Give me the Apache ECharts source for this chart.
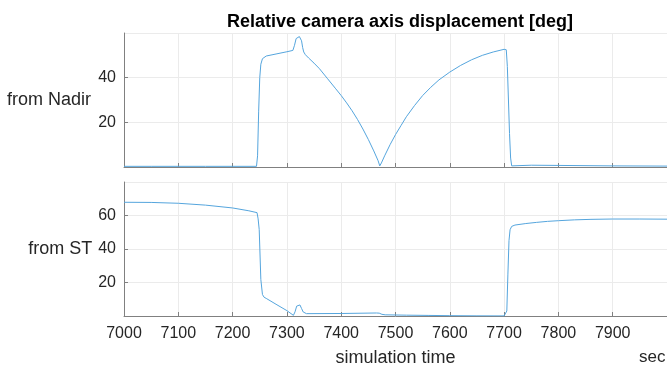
<!DOCTYPE html>
<html><head><meta charset="utf-8">
<script src="https://cdn.jsdelivr.net/npm/echarts@6/dist/echarts.min.js"></script>
<style>html,body{margin:0;padding:0;background:#fff}#c{width:667px;height:368px}</style>
</head><body><div id="c"></div>
<script>
const titleText = 'Relative camera axis displacement [deg]';
const nadirName = 'from Nadir';
const stName = 'from ST';
const xName = 'simulation time';
const xUnit = 'sec';

const nadirTime = [7000,7050,7100,7150,7200,7244,7246,7248,7250,7252,7255,7258,7262,7280,7300,7311,7314,7317,7320,7323,7325,7327,7329,7331,7334,7340,7350,7360,7375,7390,7400,7410,7420,7430,7440,7450,7460,7468,7471,7474,7480,7490,7500,7510,7520,7535,7550,7565,7580,7600,7620,7640,7660,7680,7700,7704,7706,7708,7710,7712,7714,7717,7750,7800,7900,8000];
const nadirValue = [0.3,0.3,0.3,0.3,0.3,0.3,5,25,40,46,48.5,49.3,49.7,50.6,51.6,52.2,54.5,57.5,58.3,58.4,58.2,56.5,53.5,51.5,50.3,48.8,46.5,44,39.5,35,32,28.7,25.2,21.3,17,12.3,7.2,2.8,0.5,1.8,5,10,14.5,18.5,22.5,27.5,32,35.7,39,42.5,45.5,48,50,51.5,52.7,52.5,45,30,15,4,0.5,0.8,0.8,0.7,0.5,0.4];

const stTime = [7000,7050,7100,7150,7200,7230,7245,7247,7249,7252,7255,7258,7263,7280,7300,7312,7315,7318,7321,7324,7327,7330,7333,7336,7400,7465,7470,7475,7481,7520,7560,7600,7650,7700,7703,7705,7707,7709,7711,7714,7720,7740,7760,7780,7800,7830,7860,7900,7950,8000];
const stValue = [67.9,67.8,67.3,66.2,64.5,62.8,61.7,58,51.6,21.8,12.8,11.2,10.3,7,3.2,0.4,2.5,5.9,6.9,6.6,4.5,2.4,1.5,1.4,1.5,1.8,1.7,1,0.7,0.5,0.35,0.2,0.1,0.05,0.3,3,25,45,51.5,53.5,54.3,55.2,55.9,56.5,56.9,57.4,57.7,57.9,57.9,57.8];

const xMin = 7000, xMax = 8000, xStep = 100;
const topYMax = 60, botYMax = 80, yStep = 20;

const nadirData = nadirTime.map((t, i) => [t, nadirValue[i]]);
const stData = stTime.map((t, i) => [t, stValue[i]]);

const font = 'Liberation Sans, Arial, sans-serif';
const txt = '#262626';
const axisCol = '#808080';
const gridCol = '#ebebeb';
const lineCol = '#55a5dd';

function xAx(idx, showLabels) {
  return {
    type: 'value', gridIndex: idx, min: xMin, max: xMax, interval: xStep,
    axisLine: {show: true, onZero: false, lineStyle: {color: axisCol, width: 1}},
    axisTick: {show: true, inside: true, length: 4, lineStyle: {color: axisCol}},
    axisLabel: {show: showLabels, showMaxLabel: false, margin: 10, fontSize: 16, color: txt, fontFamily: font,
      formatter: v => String(v)},
    splitLine: {show: true, lineStyle: {color: gridCol, width: 1}},
    name: showLabels ? xName : '', nameLocation: 'middle', nameGap: 33,
    nameTextStyle: {fontSize: 18, color: txt, fontFamily: font}
  };
}
function yAx(idx, max, name, gap) {
  return {
    type: 'value', gridIndex: idx, min: 0, max: max, interval: yStep,
    axisLine: {show: true, lineStyle: {color: axisCol, width: 1}},
    axisTick: {show: true, inside: true, length: 4, lineStyle: {color: axisCol}},
    axisLabel: {showMinLabel: false, showMaxLabel: false, margin: 8, fontSize: 16, color: txt, fontFamily: font},
    splitLine: {show: true, lineStyle: {color: gridCol, width: 1}},
    name: name, nameLocation: 'middle', nameRotate: 0, nameGap: gap,
    nameTextStyle: {fontSize: 18, color: txt, fontFamily: font}
  };
}

const chart = echarts.init(document.getElementById('c'), null, {renderer: 'canvas'});
chart.setOption({
  animation: false,
  backgroundColor: '#fff',
  title: {text: titleText, left: 395, top: 8, textAlign: 'center',
    textStyle: {fontSize: 18, fontWeight: 'bold', color: '#000', fontFamily: font}},
  grid: [
    {left: 124, right: 0, top: 33, height: 134},
    {left: 124, right: 0, top: 182, height: 134}
  ],
  xAxis: [xAx(0, false), xAx(1, true)],
  yAxis: [yAx(0, topYMax, nadirName, 33), yAx(1, botYMax, stName, 30)],
  graphic: [{type: 'text', left: 639, top: 349, style: {text: xUnit, fontSize: 17, fill: txt, fontFamily: font}}],
  series: [
    {type: 'line', xAxisIndex: 0, yAxisIndex: 0, data: nadirData, showSymbol: false, smooth: false,
      lineStyle: {color: lineCol, width: 1}, itemStyle: {color: lineCol}},
    {type: 'line', xAxisIndex: 1, yAxisIndex: 1, data: stData, showSymbol: false, smooth: false,
      lineStyle: {color: lineCol, width: 1}, itemStyle: {color: lineCol}}
  ]
});
</script></body></html>
